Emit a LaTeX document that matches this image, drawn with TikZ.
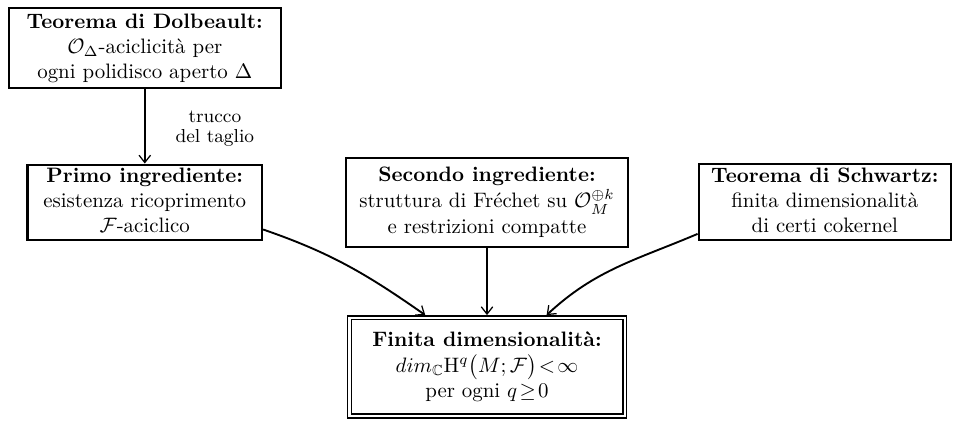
\documentclass[tikz,border=0pt]{standalone}
\usepackage{amsmath,amssymb}
\usetikzlibrary{matrix,arrows.meta}
\newcommand{\righe}[2][1]{{\renewcommand{\arraystretch}{#1}\begin{tabular}{@{}c@{}}#2\end{tabular}}}

\begin{document}
\begin{tikzpicture}[>={Straight Barb[length=3.5pt,width=5.5pt,line width=.6pt]},line width=.9pt,
    box/.style={draw,line width=1pt,inner xsep=6.5pt,inner ysep=.3pt},
    dbox/.style={box,line width=.7pt,double,double distance=1.1pt,outer sep=1.25pt,inner xsep=11pt,inner ysep=5.5pt}]
    \matrix (tree) [%
      matrix of nodes,
      nodes={box,anchor=center},
      column sep=30pt,
      row sep=32.3pt,ampersand replacement=\&
    ]
    {
      |[inner xsep=8.7pt,inner ysep=1.2pt]| \righe{\textbf{Teorema di Dolbeault:}\\ $\mathcal{O}_\Delta$-aciclicit\`a per\\ ogni polidisco aperto $\Delta$} \& \&[2.7pt] \\
      |[inner xsep=7.6pt,inner ysep=0pt]| \righe{\textbf{Primo ingrediente:}\\ esistenza ricoprimento\\ $\mathcal{F}$-aciclico} \&
      |[inner ysep=2.9pt]| \righe{\textbf{Secondo ingrediente:}\\ struttura di Fr\'echet su $\mathcal{O}_M^{\oplus k}$\\ e restrizioni compatte} \&
      |[inner xsep=6pt]| \righe{\textbf{Teorema di Schwartz:}\\ finita dimensionalit\`a\\ di certi cokernel} \\
      \& |[dbox]| \righe{\textbf{Finita dimensionalit\`a:}\\ $dim_{\mathbb{C}}\mathrm{H}^q\big(M;\mathcal{F}\big)\!<\!\infty$\\ per ogni $q\!\geq\!0$} \& \\
    };
    \draw[->] (tree-1-1) -- (tree-2-1) node [midway,right,xshift=11pt,yshift=-1pt] {\small\righe[.85]{trucco\\del taglio}};
    \draw[->] (tree-2-1.-13) to[out=-19,in=145] (tree-3-2.140);
    \draw[->] (tree-2-2) -- (tree-3-2);
    \draw[->] (tree-2-3.194) to[out=203,in=43] (tree-3-2.41);

    \useasboundingbox ([shift={(-3.6pt,2.2pt)}]tree-1-1.north west) rectangle +(430pt,-187.9pt);
  \end{tikzpicture}
\end{document}
